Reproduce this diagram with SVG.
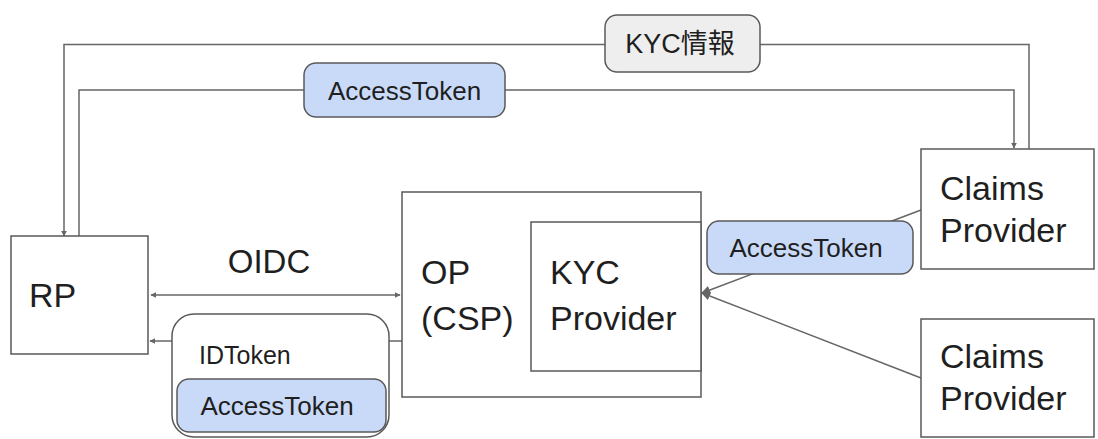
<svg xmlns="http://www.w3.org/2000/svg" width="1098" height="439" viewBox="0 0 1098 439">
<style>
.box{fill:#fff;stroke:#595959;stroke-width:1.5}
.tok{fill:#c9daf8;stroke:#595959;stroke-width:1.5}
.info{fill:#eeeeee;stroke:#595959;stroke-width:1.5}
.ln{fill:none;stroke:#666;stroke-width:1.5}
text{font-family:"Liberation Sans",Arial,"Noto Sans CJK JP",sans-serif;fill:#1f1f1f}
.big{font-size:34px}
.mid{font-size:33px}
.sm{font-size:26px}
.id{font-size:25px}
</style>
<defs>
<marker id="ah" viewBox="0 0 10 10" refX="9" refY="5" markerWidth="6" markerHeight="6" orient="auto-start-reverse" markerUnits="userSpaceOnUse">
<path d="M0,0 L10,5 L0,10 z" fill="#666"/>
</marker>
<marker id="ahb" viewBox="0 0 10 10" refX="9" refY="5" markerWidth="9" markerHeight="9" orient="auto" markerUnits="userSpaceOnUse">
<path d="M0,0 L10,5 L0,10 z" fill="#666"/>
</marker>
</defs>
<g id="connectors">
<path class="ln" d="M1029,149 V44.5 H64 V236" marker-end="url(#ah)"/>
<path class="ln" d="M79,236 V90 H1014 V148" marker-end="url(#ah)"/>
<path class="ln" d="M151,295 H400" marker-start="url(#ah)" marker-end="url(#ah)"/>
<path class="ln" d="M402,341 H150" marker-end="url(#ah)"/>
<path class="ln" d="M921,210 L702,293" marker-end="url(#ahb)"/>
<path class="ln" d="M921,378 L702,293" marker-end="url(#ahb)"/>
</g>
<g id="kyc-info">
<rect class="info" x="605" y="15" width="155" height="57" rx="12"/>
<text x="680" y="53" text-anchor="middle" style="font-size:27px">KYC情報</text>
</g>
<g id="access-token-top">
<rect class="tok" x="304" y="63" width="201" height="54" rx="12"/>
<text class="sm" x="404.5" y="100" text-anchor="middle">AccessToken</text>
</g>
<g id="rp">
<rect class="box" x="11" y="236" width="137" height="118"/>
<text class="big" x="29" y="307">RP</text>
</g>
<g id="oidc-label">
<text class="mid" x="269" y="273" text-anchor="middle">OIDC</text>
</g>
<g id="op">
<rect class="box" x="402" y="192" width="299" height="205"/>
<text class="big" x="421" y="284">OP</text>
<text class="big" x="421" y="330">(CSP)</text>
</g>
<g id="kyc-provider">
<rect class="box" x="531" y="222" width="170" height="149"/>
<text class="big" x="550" y="284">KYC</text>
<text class="big" x="550" y="330">Provider</text>
</g>
<g id="id-token">
<rect class="box" x="172" y="314" width="217" height="123" rx="22"/>
<text class="id" x="199" y="364">IDToken</text>
<rect class="tok" x="177" y="379" width="209" height="53" rx="12"/>
<text class="sm" x="277" y="415" text-anchor="middle">AccessToken</text>
</g>
<g id="access-token-right">
<rect class="tok" x="707" y="221" width="206" height="53" rx="12"/>
<text class="sm" x="806" y="257" text-anchor="middle">AccessToken</text>
</g>
<g id="claims-1">
<rect class="box" x="921" y="149" width="173" height="120"/>
<text class="big" x="940" y="200">Claims</text>
<text class="big" x="940" y="242">Provider</text>
</g>
<g id="claims-2">
<rect class="box" x="921" y="319" width="173" height="118"/>
<text class="big" x="940" y="368">Claims</text>
<text class="big" x="940" y="410">Provider</text>
</g>
</svg>
